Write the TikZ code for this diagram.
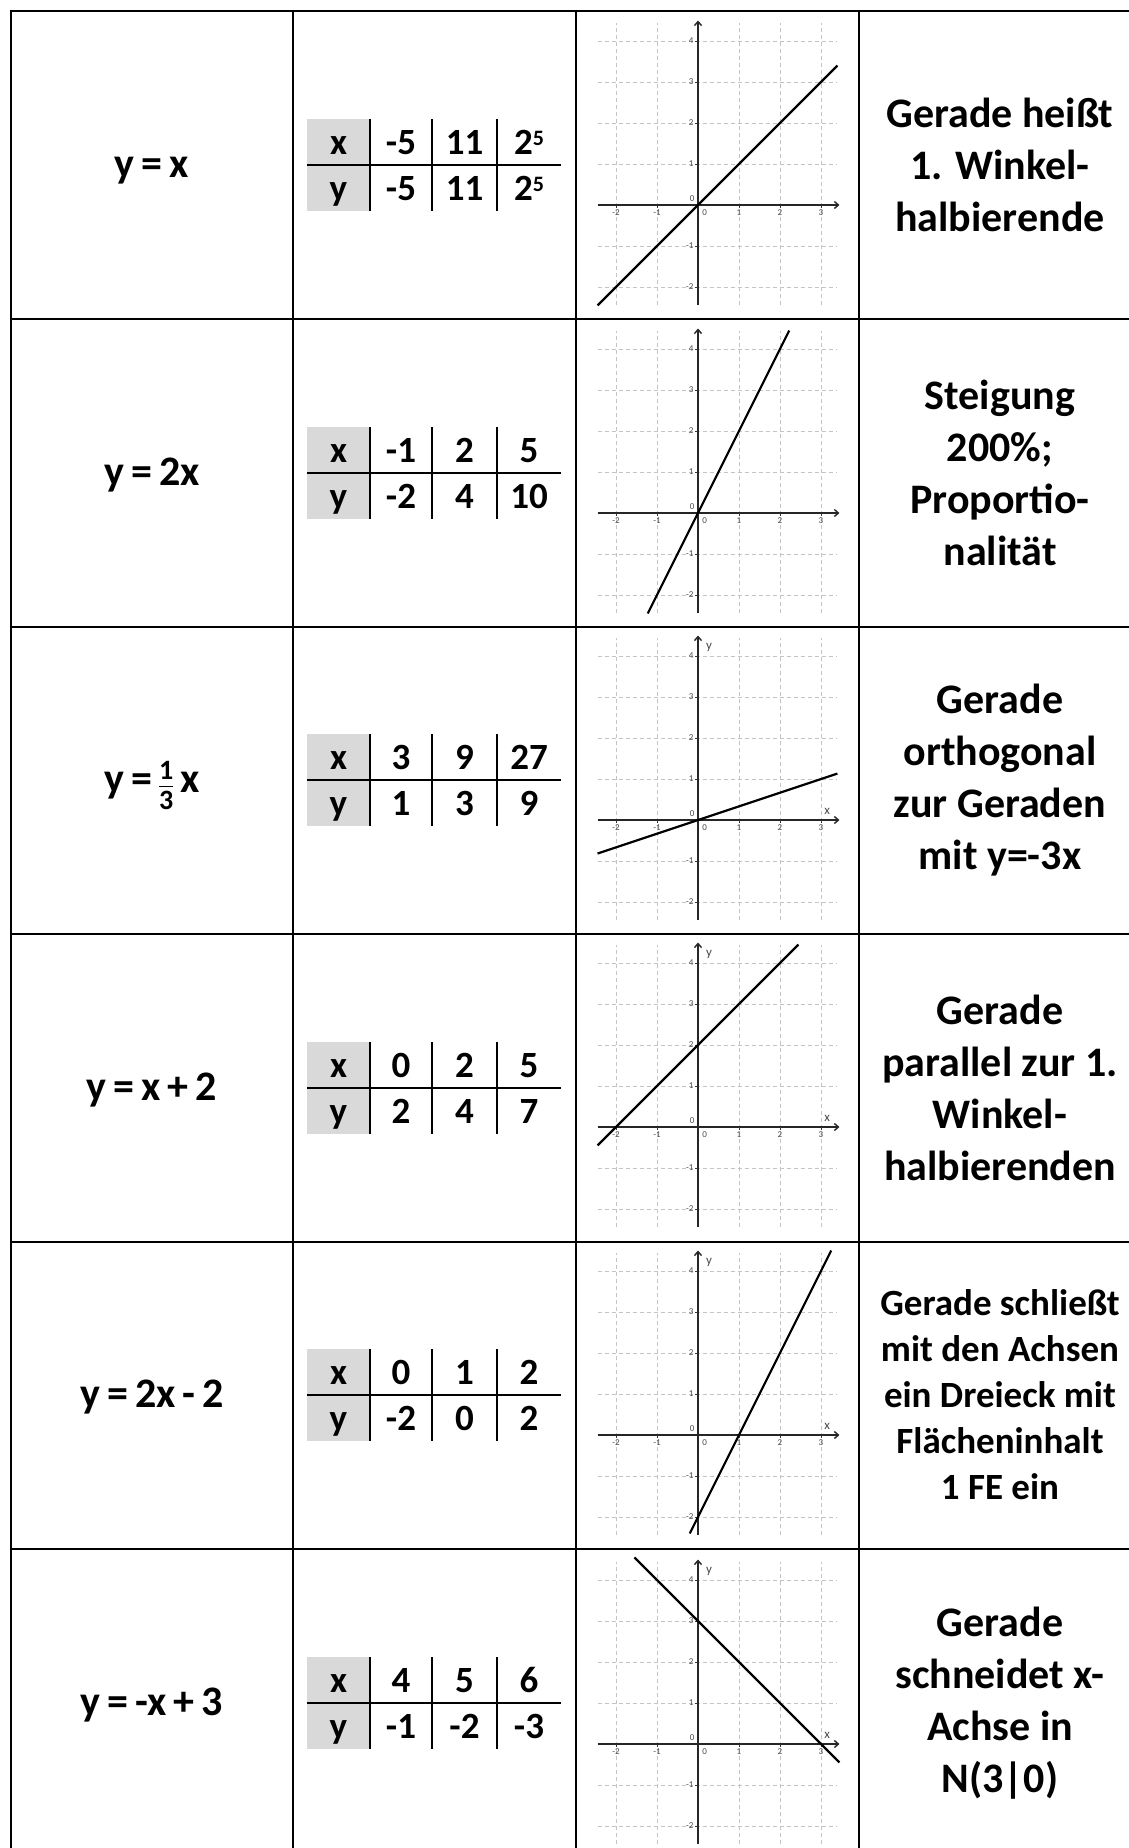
\documentclass[tikz,border=0pt]{standalone}
\usepackage{fontspec}
\setmainfont{Carlito}
\usetikzlibrary{arrows.meta}
\definecolor{cellgray}{HTML}{D9D9D9}
\definecolor{gridgray}{HTML}{C4C4C4}
\definecolor{ticklbl}{HTML}{4A4A4A}
\tikzset{
  border/.style={line width=2.6pt, black},
  tabline/.style={line width=2pt, black},
  gridline/.style={line width=0.9pt, gridgray, dash pattern=on 4pt off 3pt},
  axisline/.style={line width=1.6pt, black!85, -{Straight Barb[length=4pt,width=7pt,line width=1.4pt]}},
  plotline/.style={line width=2.2pt, black},
  tickmark/.style={line width=1pt, black!80},
  ticklabel/.style={font=\fontsize{9}{9}\selectfont, text=ticklbl, inner sep=1pt},
  axislabel/.style={font=\fontsize{13}{13}\selectfont, text=ticklbl, inner sep=1pt},
  eqtext/.style={font=\fontsize{42}{52}\selectfont\bfseries, inner sep=0pt, anchor=base},
  tabtext/.style={font=\fontsize{37}{46}\selectfont\bfseries, inner sep=0pt, anchor=base},
  desc/.style={font=\fontsize{42}{52}\selectfont\bfseries, align=center, inner sep=0pt},
  descsmall/.style={font=\fontsize{37}{46}\selectfont\bfseries, align=center, inner sep=0pt}
}
\newcommand{\sq}{\raisebox{9pt}{\fontsize{22}{22}\selectfont 5}}
\newlength{\fracw}
\newcommand{\myfrac}[2]{\begingroup\fontsize{28}{28}\selectfont
  \settowidth{\fracw}{#1}%
  \raisebox{12.5pt}{\makebox[\fracw]{#1}}\kern-\fracw
  \raisebox{5.5pt}{\rule{\fracw}{0.8pt}}\kern-\fracw
  \raisebox{-17pt}{\makebox[\fracw]{#2}}\endgroup}
% table: #1 name, #2 center y, #3-#5 x values, #6-#8 y values
\newcommand{\mytable}[8]{%
  \fill[cellgray] (307,#2-46) rectangle (370,#2+46);
  \draw[tabline] (307,#2) -- (561,#2);
  \foreach \vx in {370,432,497} \draw[tabline] (\vx,#2-46) -- (\vx,#2+46);
  \node[tabtext] (#1hx) at (338.5,#2-11) {x};
  \node[tabtext] (#1hy) at (338.5,#2+35) {y};
  \node[tabtext] (#1xa) at (401,#2-11) {#3};
  \node[tabtext] (#1xb) at (464.5,#2-11) {#4};
  \node[tabtext] (#1xc) at (529,#2-11) {#5};
  \node[tabtext] (#1ya) at (401,#2+35) {#6};
  \node[tabtext] (#1yb) at (464.5,#2+35) {#7};
  \node[tabtext] (#1yc) at (529,#2+35) {#8};
}
% graph: #1 name, #2 origin y, #3 x start, #4 x end, #5 slope, #6 intercept, #7 show axis labels (1/0)
\newcommand{\mygraph}[7]{%
  \begin{scope}[shift={(698,#2)}, x=41pt, y=41pt]
    \foreach \gx in {-2,...,3} \draw[gridline] (\gx,-2.45) -- (\gx,4.45);
    \foreach \gy in {-2,...,4} \draw[gridline] (-2.45,\gy) -- (3.4,\gy);
    \draw[axisline] (-2.45,0) -- (3.45,0);
    \draw[axisline] (0,-2.45) -- (0,4.5);
    \foreach \t in {-2,-1,1,2,3} {
      \draw[tickmark] (\t,0) -- (\t,-0.08);
      \node[ticklabel, anchor=north] (#1tx\t) at (\t,-0.08) {\t};
    }
    \foreach \t in {-2,-1,1,2,3,4} {
      \draw[tickmark] (0,\t) -- (-0.08,\t);
      \node[ticklabel, anchor=east] (#1ty\t) at (-0.08,\t) {\t};
    }
    \node[ticklabel, anchor=south east] (#1oa) at (-0.06,0.06) {0};
    \node[ticklabel, anchor=north west] (#1ob) at (0.08,-0.08) {0};
    \ifnum#7=1
      \node[axislabel] (#1ly) at (0.27,4.2) {y};
      \node[axislabel] (#1lx) at (3.15,0.22) {x};
    \fi
    \draw[plotline] ({#3},{(#5)*(#3)+(#6)}) -- ({#4},{(#5)*(#4)+(#6)});
  \end{scope}
}
\begin{document}
\begin{tikzpicture}[x=1pt, y=-1pt]
\useasboundingbox (0,0) rectangle (1129,1848);
\clip (0,0) rectangle (1129,1848);
\fill[white] (0,0) rectangle (1129,1848);

% row 1
\node[eqtext] (eq1) at (152,177) {y\,=\,x};
\mytable{ta}{165}{-5}{11}{2\sq}{-5}{11}{2\sq}
\mygraph{ga}{205}{-2.45}{3.4}{1}{0}{0}
\node[desc] (d1) at (1000,165) {Gerade heißt\\1. Winkel-\\halbierende};

% row 2
\node[eqtext] (eq2) at (152,485) {y\,=\,2x};
\mytable{tb}{473}{-1}{2}{5}{-2}{4}{10}
\mygraph{gb}{513}{-1.225}{2.225}{2}{0}{0}
\node[desc] (d2) at (1000,473) {Steigung\\200\%;\\Proportio-\\nalität};

% row 3
\node[eqtext] (eq3) at (152,792) {y\,=\,\myfrac{1}{3}\,x};
\mytable{tc}{780}{3}{9}{27}{1}{3}{9}
\mygraph{gc}{820}{-2.45}{3.4}{1/3}{0}{1}
\node[desc] (d3) at (1000,780) {Gerade\\orthogonal\\zur Geraden\\mit y=-3x};

% row 4
\node[eqtext] (eq4) at (152,1100) {y\,=\,x\,+\,2};
\mytable{td}{1088}{0}{2}{5}{2}{4}{7}
\mygraph{gd}{1127}{-2.45}{2.45}{1}{2}{1}
\node[desc] (d4) at (1000,1088) {Gerade\\parallel zur 1.\\Winkel-\\halbierenden};

% row 5
\node[eqtext] (eq5) at (152,1407) {y\,=\,2x\,-\,2};
\mytable{te}{1395}{0}{1}{2}{-2}{0}{2}
\mygraph{ge}{1435}{-0.2}{3.25}{2}{-2}{1}
\node[descsmall] (d5) at (1000,1395) {Gerade schließt\\mit den Achsen\\ein Dreieck mit\\Flächeninhalt\\1 FE ein};

% row 6
\node[eqtext] (eq6) at (152,1715) {y\,=\,-x\,+\,3};
\mytable{tf}{1703}{4}{5}{6}{-1}{-2}{-3}
\mygraph{gf}{1744}{-1.55}{3.45}{-1}{3}{1}
\node[desc] (d6) at (1000,1703) {Gerade\\schneidet x-\\Achse in\\N(3|0)};

% table borders
\foreach \ry in {11,319,627,934,1242,1549} \draw[border] (9.7,\ry) -- (1140,\ry);
\foreach \cx in {11,293,576,859} \draw[border] (\cx,9.7) -- (\cx,1860);
\end{tikzpicture}
\end{document}
